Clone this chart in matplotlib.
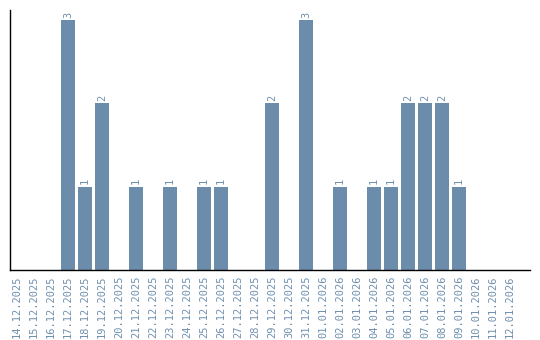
import matplotlib
matplotlib.use("Agg")
import matplotlib.pyplot as plt

dates = ["14.12.2025","15.12.2025","16.12.2025","17.12.2025","18.12.2025","19.12.2025",
         "20.12.2025","21.12.2025","22.12.2025","23.12.2025","24.12.2025","25.12.2025",
         "26.12.2025","27.12.2025","28.12.2025","29.12.2025","30.12.2025","31.12.2025",
         "01.01.2026","02.01.2026","03.01.2026","04.01.2026","05.01.2026","06.01.2026",
         "07.01.2026","08.01.2026","09.01.2026","10.01.2026","11.01.2026","12.01.2026"]
counts = [0,0,0,3,1,2,0,1,0,1,0,1,1,0,0,2,0,3,0,1,0,1,1,2,2,2,1,0,0,0]

bar_color = "#6b8cab"
text_color = "#6f8fae"

fig = plt.figure(figsize=(5.4, 3.4), dpi=100)
ax = fig.add_axes([10/540, 70/340, 520/540, 260/340])
x = list(range(len(dates)))
ax.bar(x, counts, width=0.82, color=bar_color)
for xi, c in zip(x, counts):
    if c > 0:
        ax.text(xi, c + 0.03, str(c), rotation=90, ha="center", va="bottom",
                fontsize=7.5, family="DejaVu Sans Mono", color=text_color)
ax.set_xlim(-0.41, 30.18)
ax.set_ylim(0, 3.12)
ax.set_xticks(x)
ax.set_xticklabels(dates, rotation=90, fontsize=7.5, family="DejaVu Sans Mono", color=text_color)
ax.tick_params(axis="x", length=0, pad=4)
ax.set_yticks([])
ax.spines["top"].set_visible(False)
ax.spines["right"].set_visible(False)
ax.spines["left"].set_linewidth(1.0)
ax.spines["bottom"].set_linewidth(1.0)
fig.savefig("out.png", dpi=100)
